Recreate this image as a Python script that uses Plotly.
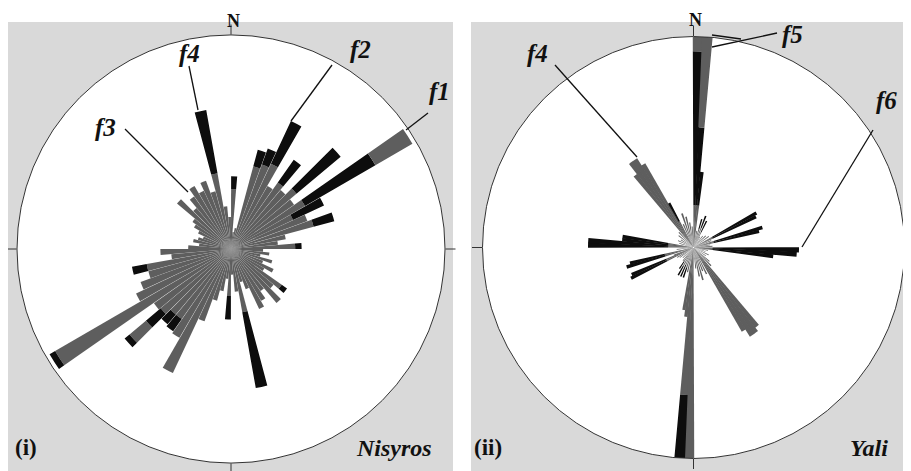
import plotly.graph_objects as go

W, H = 911, 471          # target picture size
OFF = 8                  # page body margin of the browser
FW, FH = W - OFF, H - OFF

# ---------------- Nisyros (panel i): 5-degree bins ----------------
NIS_THETA = [2.5 + 5 * i for i in range(72)]
# inner (gray) segment end, % of circle radius
NIS_GRAY = [28, 8, 10, 40, 42, 44, 34, 38, 36, 40, 36, 40, 32, 38, 40, 26, 22, 30,
            15, 18, 14, 20, 16, 22, 18, 29, 26, 33, 24, 28, 31, 20, 16, 30, 20, 12,
            22, 14, 20, 25, 36, 64, 48, 40, 40, 43, 44, 95, 49, 45, 40, 40, 28, 33,
            20, 15, 18, 16, 14, 17, 20, 22, 33, 25, 30, 34, 30, 34, 28, 36, 20, 15]
# outer (black) segment end, 0 = none
NIS_BLACK = [34, 0, 0, 48, 50, 66, 0, 51, 0, 67, 0, 78, 48, 0, 50, 0, 0, 33,
             0, 0, 0, 0, 0, 0, 0, 32, 0, 0, 0, 0, 0, 0, 0, 66, 0, 0,
             33, 0, 0, 0, 0, 0, 0, 47, 46, 52, 0, 98, 0, 0, 0, 47, 0, 0,
             0, 0, 0, 0, 0, 0, 0, 0, 0, 0, 0, 0, 0, 0, 0, 66, 0, 0]
NIS_XGRAY_THETA = [57.5, 227.5]
NIS_XGRAY_FROM = [78, 52]
NIS_XGRAY_TO = [98, 62]
NIS_XBLACK_THETA = [227.5]
NIS_XBLACK_FROM = [62]
NIS_XBLACK_TO = [65]

# ---------------- Yali (panel ii): 2.5-degree bins ----------------
YALI_THETA = [1.25, 3.75, 6.25, 11.25, 16.25, 21.25, 26.25, 31.25, 38.75, 46.25,
              53.75, 61.25, 63.75, 68.75, 73.75, 76.25, 81.25, 86.25, 91.25, 93.75,
              96.25, 101.25, 108.75, 116.25, 123.75, 131.25, 136.25, 141.25, 143.75, 146.25,
              148.75, 153.75, 158.75, 163.75, 168.75, 173.75, 181.25, 183.75, 186.25, 188.75,
              193.75, 198.75, 203.75, 208.75, 213.75, 218.75, 226.25, 233.75, 238.75, 243.75,
              246.25, 248.75, 253.75, 256.25, 263.75, 271.25, 273.75, 276.25, 278.75, 286.25,
              293.75, 301.25, 308.75, 316.25, 321.25, 323.75, 326.25, 328.75, 331.25, 336.25,
              341.25, 346.25, 351.25, 356.25]
YALI_GRAY = [20, 20, 20, 8, 9, 10, 8, 6, 7, 8,
             9, 10, 10, 9, 10, 10, 8, 9, 9, 9,
             9, 7, 6, 8, 7, 10, 12, 48, 50, 50,
             46, 14, 12, 16, 14, 10, 100, 70, 33, 30,
             12, 10, 9, 10, 8, 8, 7, 8, 9, 14,
             14, 10, 14, 14, 8, 12, 12, 12, 12, 7,
             8, 7, 9, 10, 44, 50, 50, 46, 14, 12,
             17, 15, 12, 10]
YALI_BLACK = [93, 57, 36, 0, 14, 16, 14, 0, 0, 0,
              0, 34, 33, 0, 34, 32, 0, 0, 50, 49,
              38, 0, 0, 0, 0, 0, 0, 0, 0, 0,
              0, 0, 0, 0, 0, 0, 0, 100, 0, 0,
              0, 15, 15, 15, 12, 0, 0, 0, 0, 33,
              32, 0, 33, 31, 0, 50, 50, 34, 34, 0,
              0, 0, 0, 0, 0, 0, 0, 0, 24, 0,
              0, 0, 0, 0]
YALI_XGRAY_THETA = [1.25, 3.75]
YALI_XGRAY_FROM = [93, 57]
YALI_XGRAY_TO = [100, 100]

GRAY = "#5e5e5e"
BLACK = "#0d0d0d"


def px(x):
    return (x - OFF) / FW


def py(y):
    return 1 - (y - OFF) / FH


def add_rose(fig, polar, theta, gray, black, xg, xb, width):
    fig.add_trace(go.Barpolar(theta=theta, r=gray, width=width, subplot=polar,
                              marker=dict(color=GRAY, line=dict(width=0)),
                              hoverinfo="skip"))
    bt = [t for t, g, b in zip(theta, gray, black) if b > 0]
    bb = [g for t, g, b in zip(theta, gray, black) if b > 0]
    br = [b - g for t, g, b in zip(theta, gray, black) if b > 0]
    fig.add_trace(go.Barpolar(theta=bt, r=br, base=bb, width=width, subplot=polar,
                              marker=dict(color=BLACK, line=dict(width=0)),
                              hoverinfo="skip"))
    if xg:
        t, f, to = xg
        fig.add_trace(go.Barpolar(theta=t, r=[b - a for a, b in zip(f, to)], base=f,
                                  width=width, subplot=polar,
                                  marker=dict(color=GRAY, line=dict(width=0)),
                                  hoverinfo="skip"))
    if xb:
        t, f, to = xb
        fig.add_trace(go.Barpolar(theta=t, r=[b - a for a, b in zip(f, to)], base=f,
                                  width=width, subplot=polar,
                                  marker=dict(color=BLACK, line=dict(width=0)),
                                  hoverinfo="skip"))


fig = go.Figure()
add_rose(fig, "polar", NIS_THETA, NIS_GRAY, NIS_BLACK,
         (NIS_XGRAY_THETA, NIS_XGRAY_FROM, NIS_XGRAY_TO),
         (NIS_XBLACK_THETA, NIS_XBLACK_FROM, NIS_XBLACK_TO), 4.8)
add_rose(fig, "polar2", YALI_THETA, YALI_GRAY, YALI_BLACK,
         (YALI_XGRAY_THETA, YALI_XGRAY_FROM, YALI_XGRAY_TO), None, 2.9)

angular = dict(rotation=90, direction="clockwise", showgrid=False, showticklabels=False,
               ticks="outside", tickmode="array", tickvals=[0, 90, 180, 270], ticklen=10,
               tickcolor="#333", tickwidth=1, linecolor="#333", linewidth=1)
radial = dict(visible=False, range=[0, 100])

fig.update_layout(
    width=FW, height=FH, margin=dict(l=0, r=0, t=0, b=0),
    paper_bgcolor="white", showlegend=False,
    polar=dict(domain=dict(x=[px(17), px(445)], y=[py(463), py(35)]),
               bgcolor="white", barmode="overlay", angularaxis=angular, radialaxis=radial),
    polar2=dict(domain=dict(x=[px(482.5), px(904.5)], y=[py(458.5), py(36.5)]),
                bgcolor="white", barmode="overlay", angularaxis=angular, radialaxis=radial),
)

# textured-gray panel backgrounds
for x0, x1 in [(7, 453), (471, 911)]:
    fig.add_shape(type="rect", xref="paper", yref="paper", x0=px(x0), x1=px(x1),
                  y0=py(471), y1=py(22), fillcolor="#d9d9d9", line=dict(width=0),
                  layer="below")

# leader lines
LEADERS = [((189, 66), (198, 110)), ((332, 65), (291, 121)), ((428, 113), (406, 130)),
           ((125, 129), (188, 192)), ((555, 65), (637, 157)), ((777, 33), (712, 47)),
           ((741, 39), (712, 35)), ((873, 130), (802, 247))]
for (xa, ya), (xb_, yb) in LEADERS:
    fig.add_shape(type="line", xref="paper", yref="paper", x0=px(xa), y0=py(ya),
                  x1=px(xb_), y1=py(yb), line=dict(color="#111", width=1.3))

SERIF = "Liberation Serif"
texts = [
    ("N", 233, 21, "center", 18, True, False),
    ("N", 695, 20, "center", 18, True, False),
    ("(i)", 13, 447, "left", 23, True, False),
    ("Nisyros", 434, 448, "right", 24, True, True),
    ("(ii)", 472, 447, "left", 23, True, False),
    ("Yali", 890, 448, "right", 24, True, True),
    ("f4", 189, 53, "center", 25, True, True),
    ("f2", 360, 50, "center", 25, True, True),
    ("f1", 439, 92, "center", 25, True, True),
    ("f3", 105, 127, "center", 25, True, True),
    ("f4", 537, 53, "center", 25, True, True),
    ("f5", 792, 34, "center", 25, True, True),
    ("f6", 886, 100, "center", 25, True, True),
]
for t, x, y, anchor, size, bold, italic in texts:
    s = t
    if bold:
        s = "<b>" + s + "</b>"
    if italic:
        s = "<i>" + s + "</i>"
    fig.add_annotation(text=s, x=px(x), y=py(y), xref="paper", yref="paper",
                       xanchor=anchor, yanchor="middle", showarrow=False,
                       font=dict(family=SERIF, size=size, color="#111"))

fig.write_html("out.html")
